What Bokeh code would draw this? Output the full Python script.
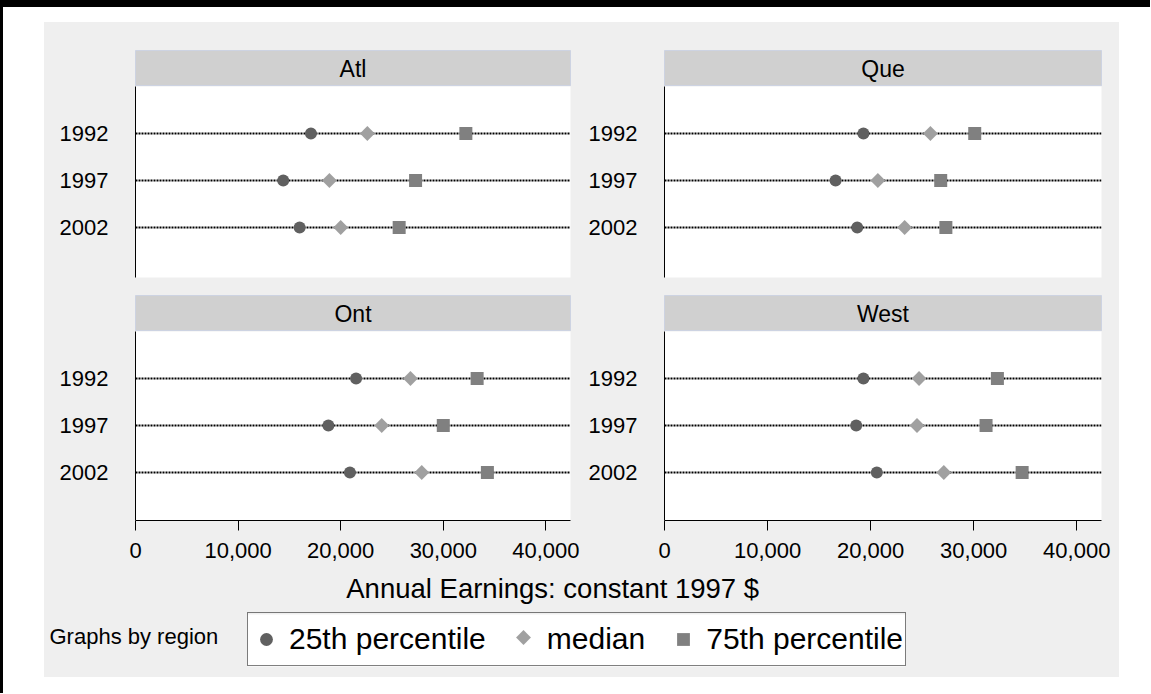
import numpy as np
from bokeh.plotting import figure
from bokeh.layouts import column, row
from bokeh.models import (Range1d, FixedTicker, NumeralTickFormatter, Legend,
                          LegendItem, Spacer, Div)
from bokeh.core.properties import value
from bokeh.embed import file_html
from bokeh.resources import INLINE

# ---------------- data ----------------
regions = ["Atl", "Que", "Ont", "West"]
years = ["1992", "1997", "2002"]
year_pos = [1, 2, 3]

p25_atl = [17100, 14400, 16000]
p50_atl = [22600, 18900, 20000]
p75_atl = [32200, 27300, 25700]

p25_que = [19300, 16600, 18700]
p50_que = [25800, 20700, 23300]
p75_que = [30100, 26800, 27300]

p25_ont = [21500, 18800, 20900]
p50_ont = [26800, 24000, 27900]
p75_ont = [33300, 30000, 34300]

p25_west = [19300, 18600, 20600]
p50_west = [24700, 24500, 27100]
p75_west = [32300, 31200, 34700]

x_ticks = [0, 10000, 20000, 30000, 40000]
x_max = 42400

series_labels = ["25th percentile", "median", "75th percentile"]
x_title = "Annual Earnings:  constant 1997 $"
note = "Graphs by region"

# ---------------- style ----------------
FONT = "Liberation Sans"
BG = "#EFEFEF"
STRIP = "#D0D0D0"
C25, C50, C75 = "#606060", "#A0A0A0", "#808080"
ROW_PX = 47
AX_BORDER = 52

data = {
    "Atl": (p25_atl, p50_atl, p75_atl),
    "Que": (p25_que, p50_que, p75_que),
    "Ont": (p25_ont, p50_ont, p75_ont),
    "West": (p25_west, p50_west, p75_west),
}


def borders(col):
    return (91, 435, 14) if col == 0 else (80, 437, 18)


def axis_bg(ax):
    if "background_fill_color" in ax.properties():
        ax.background_fill_color = BG


def strip(name, col, top):
    left, fw, right = borders(col)
    s = figure(frame_width=fw, frame_height=36, x_range=Range1d(0, 1),
               y_range=Range1d(0, 1), min_border=0, min_border_left=left,
               min_border_right=right, min_border_top=top, min_border_bottom=0,
               x_axis_location=None, y_axis_location=None,
               background_fill_color=STRIP, border_fill_color=BG,
               outline_line_color="#CDD3E2", outline_line_width=1,
               toolbar_location=None, output_backend="svg")
    s.grid.visible = False
    s.text(x=[0.5], y=[0.5], text=[name], text_align="center",
           text_baseline="middle", text_font=value(FONT),
           text_font_size="23px", text_color="black")
    return s


def panel(name, col, rowi):
    left, fw, right = borders(col)
    fh = 191 if rowi == 0 else 189
    bottom = 9 if rowi == 0 else AX_BORDER
    p = figure(frame_width=fw, frame_height=fh, x_range=Range1d(0, x_max),
               y_range=Range1d(fh / ROW_PX, 0), min_border=0,
               min_border_left=left, min_border_right=right, min_border_top=0,
               min_border_bottom=bottom,
               x_axis_location="below" if rowi == 1 else None,
               y_axis_location="left",
               background_fill_color="white", border_fill_color=BG,
               outline_line_color=None, toolbar_location=None,
               output_backend="svg")
    p.grid.visible = False
    a25, a50, a75 = data[name]
    p.hspan(y=year_pos, line_color="black", line_width=2.2, line_dash="2 1")
    p.scatter(x=a25, y=year_pos, marker="circle", size=12,
              fill_color=C25, line_color=None)
    p.scatter(x=a50, y=year_pos, marker="square", angle=np.pi / 4, size=10.5,
              fill_color=C50, line_color=None)
    p.scatter(x=a75, y=year_pos, marker="square", size=13,
              fill_color=C75, line_color=None)

    ya = p.yaxis[0]
    axis_bg(ya)
    ya.ticker = FixedTicker(ticks=year_pos)
    ya.major_label_overrides = {k: v for k, v in zip(year_pos, years)}
    ya.major_tick_out = 0
    ya.major_tick_in = 0
    ya.minor_tick_out = 0
    ya.minor_tick_in = 0
    ya.axis_line_color = "black"
    ya.axis_line_width = 1
    ya.major_label_standoff = 27
    ya.major_label_text_font = FONT
    ya.major_label_text_font_size = "22px"
    ya.major_label_text_color = "black"

    if rowi == 1:
        xa = p.xaxis[0]
        axis_bg(xa)
        xa.ticker = FixedTicker(ticks=x_ticks)
        xa.formatter = NumeralTickFormatter(format="0,0")
        xa.major_tick_out = 10
        xa.major_tick_in = 0
        xa.minor_tick_out = 0
        xa.minor_tick_in = 0
        xa.axis_line_color = "black"
        xa.major_tick_line_color = "black"
        xa.major_tick_line_width = 1
        xa.major_label_standoff = 12
        xa.major_label_text_font = FONT
        xa.major_label_text_font_size = "22px"
        xa.major_label_text_color = "black"
    return p


BGSTYLE = {"background-color": BG}
left_col = column(strip("Atl", 0, 28), panel("Atl", 0, 0),
                  strip("Ont", 0, 9), panel("Ont", 0, 1), styles=BGSTYLE)
right_col = column(strip("Que", 1, 28), panel("Que", 1, 0),
                   strip("West", 1, 9), panel("West", 1, 1), styles=BGSTYLE)

# bottom area: axis title, note, legend
BH = 655 - (64 + 200 + 45 + 189 + AX_BORDER)
b = figure(frame_width=1075, frame_height=BH, x_range=Range1d(0, 1075),
           y_range=Range1d(BH, 0), min_border=0, x_axis_location=None,
           y_axis_location=None, background_fill_color=BG,
           border_fill_color=BG, outline_line_color=None,
           toolbar_location=None, output_backend="svg")
b.grid.visible = False
b.text(x=[512], y=[16], text=[x_title], text_align="center",
       text_baseline="alphabetic", text_font=value(FONT),
       text_font_size="27.5px", text_color="black")
b.text(x=[5], y=[64], text=[note], text_align="left",
       text_baseline="alphabetic", text_font=value(FONT),
       text_font_size="22px", text_color="black")

# legend: white key box underneath a transparent Legend
LEG_X, LEG_Y, LEG_H, LEG_W, LEG_PAD, GLYPH_H = 203, 11, 52, 658, 2, 42
leg_top = BH - LEG_Y - LEG_H
b.quad(left=[LEG_X], right=[LEG_X + LEG_W], top=[leg_top],
       bottom=[leg_top + LEG_H], fill_color="white", line_color=None)
# the legend draws markers unrotated, so the median key (a diamond) is drawn here
b.scatter(x=[479], y=[leg_top + LEG_PAD + GLYPH_H / 2], marker="square",
          angle=np.pi / 4, size=10.5, fill_color=C50, line_color=None)

# legend key renderers (their points fall outside this panel's ranges)
r1 = b.scatter(x=p25_atl, y=year_pos, marker="circle", size=12,
               fill_color=C25, line_color=None)
r2 = b.scatter(x=p50_atl, y=year_pos, marker="square", size=10.5,
               fill_color=C50, fill_alpha=0, line_color=None)
r3 = b.scatter(x=p75_atl, y=year_pos, marker="square", size=13,
               fill_color=C75, line_color=None)
legend = Legend(items=[LegendItem(label=series_labels[0], renderers=[r1]),
                       LegendItem(label=series_labels[1], renderers=[r2]),
                       LegendItem(label=series_labels[2], renderers=[r3])],
                orientation="horizontal", location=(LEG_X, LEG_Y),
                glyph_width=32, glyph_height=GLYPH_H, label_height=48,
                label_standoff=7, spacing=22, padding=LEG_PAD, margin=0,
                label_text_font=FONT, label_text_font_size="30px",
                label_text_color="black", border_line_color="black",
                border_line_width=1, background_fill_alpha=0)
b.add_layout(legend)

grid = column(row(left_col, right_col, styles=BGSTYLE), b, styles=BGSTYLE)

top_bar = Div(text="", width=1150, height=7, margin=0,
              styles={"background-color": "black"})
inner = column(Spacer(height=15, width=10, margin=0),
               row(Spacer(width=41, height=10, margin=0), grid))
body = row(Spacer(width=3, height=686, margin=0), inner,
           styles={"box-shadow": "inset 3px 0 0 #000000"})
page = column(top_bar, body)

with open("out.html", "w") as f:
    f.write(file_html(page, INLINE))
